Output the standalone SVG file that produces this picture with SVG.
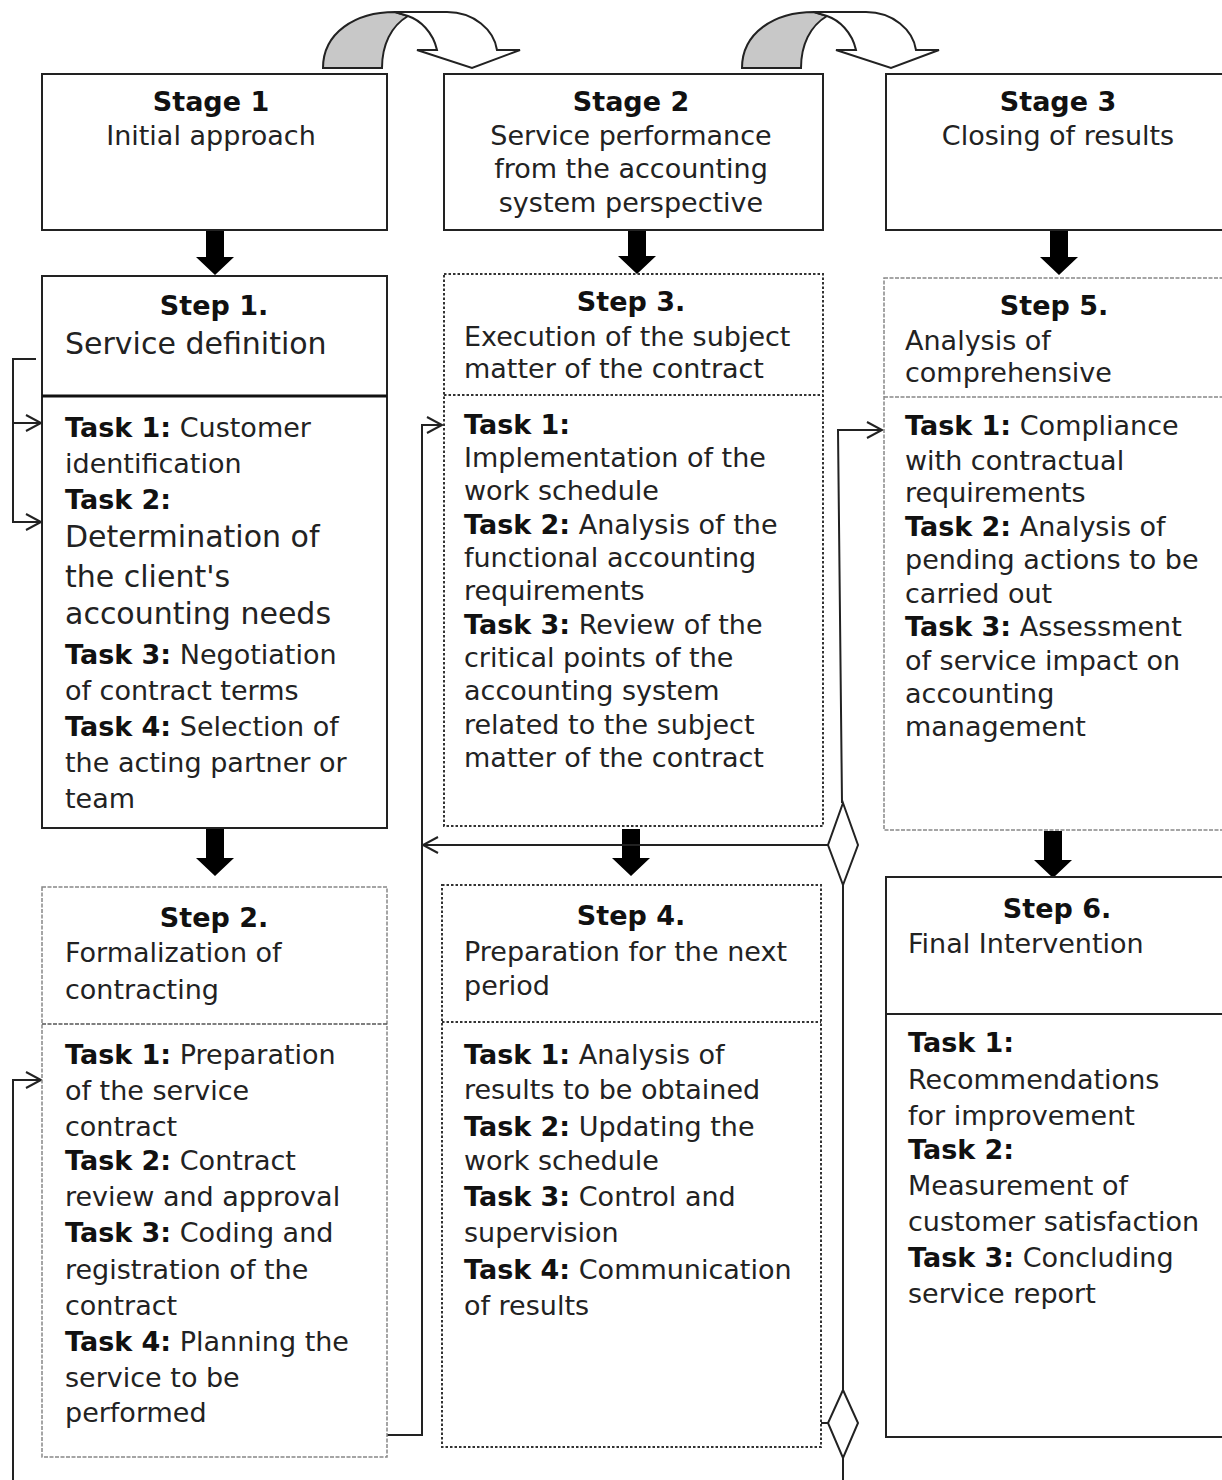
<svg xmlns="http://www.w3.org/2000/svg" width="1222" height="1480" viewBox="0 0 1222 1480">
<style>
text{font-family:"DejaVu Sans","Verdana","Liberation Sans",sans-serif;font-size:27px;fill:#222}
.b{font-weight:bold;fill:#111}
.c{text-anchor:middle}
.big{font-size:30px}
.solid{fill:#fff;stroke:#222;stroke-width:2}
.dot{fill:#fff;stroke:#333;stroke-width:2;stroke-dasharray:2.5 2}
.dash{fill:#fff;stroke:#888;stroke-width:1.5;stroke-dasharray:4 1.5}
.ln{fill:none;stroke:#222;stroke-width:2}
.dia{fill:#fff;stroke:#222;stroke-width:2}
.blk{fill:#000}
</style>
<defs>
<marker id="open" markerWidth="20" markerHeight="20" refX="16" refY="9" orient="auto" markerUnits="userSpaceOnUse">
<path d="M1,1 L16,9 L1,17" fill="none" stroke="#222" stroke-width="2"/>
</marker>
<path id="darrow" d="M-9,0 H9 V29 H19 L0,47 L-19,29 H-9 Z"/>
<g id="curve">
<path d="M323,68 C323,33 355,12 395,12 L408,16 C391,26 382,45 382,68 Z" fill="#c8c8c8" stroke="#222" stroke-width="2"/>
<path d="M395,12 L447,12 C474,12 494,30 497,50 L520,50 L472,68 L417,50 L437,50 C433,32 420,20 408,16 Z" fill="#fff" stroke="#222" stroke-width="2"/>
</g>
</defs>

<g id="connectors">
<use href="#curve"/>
<use href="#curve" transform="translate(419,0)"/>
<use href="#darrow" class="blk" transform="translate(215,228)"/>
<use href="#darrow" class="blk" transform="translate(637,227)"/>
<use href="#darrow" class="blk" transform="translate(1059,228)"/>
<use href="#darrow" class="blk" transform="translate(215,829)"/>
<use href="#darrow" class="blk" transform="translate(631,829)"/>
<use href="#darrow" class="blk" transform="translate(1053,831)"/>
<path class="ln" d="M36,359 H13 V522 H41" marker-end="url(#open)"/>
<path class="ln" d="M13,423 H41" marker-end="url(#open)"/>
<path class="ln" d="M13,1480 V1080 H41" marker-end="url(#open)"/>
<path class="ln" d="M387,1435 H422 V425 H442" marker-end="url(#open)"/>
<path class="ln" d="M828,845 H423" marker-end="url(#open)"/>
<path class="ln" d="M842,803 L838,430 H882" marker-end="url(#open)"/>
<path class="ln" d="M843,885 V1390"/>
<path class="ln" d="M821,1423 H828"/>
<path class="ln" d="M843,1458 V1480"/>
<path class="dia" d="M843,803 L858,845 L843,885 L828,845 Z"/>
<path class="dia" d="M843,1390 L858,1423 L843,1458 L828,1423 Z"/>
</g>

<g id="stage1">
<rect class="solid" x="42" y="74" width="345" height="156"/>
<text class="b c" x="211" y="111">Stage 1</text>
<text class="c" x="211" y="145">Initial approach</text>
</g>
<g id="stage2">
<rect class="solid" x="444" y="74" width="379" height="156"/>
<text class="b c" x="631" y="111">Stage 2</text>
<text class="c" x="631" y="145">Service performance</text>
<text class="c" x="631" y="178">from the accounting</text>
<text class="c" x="631" y="212">system perspective</text>
</g>
<g id="stage3">
<rect class="solid" x="886" y="74" width="345" height="156"/>
<text class="b c" x="1058" y="111">Stage 3</text>
<text class="c" x="1058" y="145">Closing of results</text>
</g>

<g id="step1">
<rect class="solid" x="42" y="276" width="345" height="552"/>
<line x1="42" y1="396" x2="387" y2="396" stroke="#111" stroke-width="3"/>
<text class="b c" x="214" y="315">Step 1.</text>
<text class="big" x="65" y="354">Service definition</text>
<text x="65" y="437"><tspan class="b">Task 1:</tspan> Customer</text>
<text x="65" y="473">identification</text>
<text class="b" x="65" y="509">Task 2:</text>
<text class="big" x="65" y="547">Determination of</text>
<text class="big" x="65" y="587">the client's</text>
<text class="big" x="65" y="624">accounting needs</text>
<text x="65" y="664"><tspan class="b">Task 3:</tspan> Negotiation</text>
<text x="65" y="700">of contract terms</text>
<text x="65" y="736"><tspan class="b">Task 4:</tspan> Selection of</text>
<text x="65" y="772">the acting partner or</text>
<text x="65" y="808">team</text>
</g>

<g id="step3">
<rect class="dot" x="444" y="274" width="379" height="552"/>
<line x1="444" y1="395" x2="823" y2="395" stroke="#333" stroke-width="2" stroke-dasharray="2.5 2"/>
<text class="b c" x="631" y="311">Step 3.</text>
<text x="464" y="346">Execution of the subject</text>
<text x="464" y="378">matter of the contract</text>
<text class="b" x="464" y="434">Task 1:</text>
<text x="464" y="467">Implementation of the</text>
<text x="464" y="500">work schedule</text>
<text x="464" y="534"><tspan class="b">Task 2:</tspan> Analysis of the</text>
<text x="464" y="567">functional accounting</text>
<text x="464" y="600">requirements</text>
<text x="464" y="634"><tspan class="b">Task 3:</tspan> Review of the</text>
<text x="464" y="667">critical points of the</text>
<text x="464" y="700">accounting system</text>
<text x="464" y="734">related to the subject</text>
<text x="464" y="767">matter of the contract</text>
</g>

<g id="step5">
<rect class="dash" x="884" y="278" width="345" height="552"/>
<line x1="884" y1="397" x2="1229" y2="397" stroke="#888" stroke-width="1.5" stroke-dasharray="4 1.5"/>
<text class="b c" x="1054" y="315">Step 5.</text>
<text x="905" y="350">Analysis of</text>
<text x="905" y="382">comprehensive</text>
<text x="905" y="435"><tspan class="b">Task 1:</tspan> Compliance</text>
<text x="905" y="470">with contractual</text>
<text x="905" y="502">requirements</text>
<text x="905" y="536"><tspan class="b">Task 2:</tspan> Analysis of</text>
<text x="905" y="569">pending actions to be</text>
<text x="905" y="603">carried out</text>
<text x="905" y="636"><tspan class="b">Task 3:</tspan> Assessment</text>
<text x="905" y="670">of service impact on</text>
<text x="905" y="703">accounting</text>
<text x="905" y="736">management</text>
</g>

<g id="step2">
<rect class="dash" x="42" y="887" width="345" height="570"/>
<line x1="42" y1="1024" x2="387" y2="1024" stroke="#555" stroke-width="1.5" stroke-dasharray="4 1.5"/>
<text class="b c" x="214" y="927">Step 2.</text>
<text x="65" y="962">Formalization of</text>
<text x="65" y="999">contracting</text>
<text x="65" y="1064"><tspan class="b">Task 1:</tspan> Preparation</text>
<text x="65" y="1100">of the service</text>
<text x="65" y="1136">contract</text>
<text x="65" y="1170"><tspan class="b">Task 2:</tspan> Contract</text>
<text x="65" y="1206">review and approval</text>
<text x="65" y="1242"><tspan class="b">Task 3:</tspan> Coding and</text>
<text x="65" y="1279">registration of the</text>
<text x="65" y="1315">contract</text>
<text x="65" y="1351"><tspan class="b">Task 4:</tspan> Planning the</text>
<text x="65" y="1387">service to be</text>
<text x="65" y="1422">performed</text>
</g>

<g id="step4">
<rect class="dot" x="442" y="885" width="379" height="562"/>
<line x1="442" y1="1022" x2="821" y2="1022" stroke="#333" stroke-width="2" stroke-dasharray="2.5 2"/>
<text class="b c" x="631" y="925">Step 4.</text>
<text x="464" y="961">Preparation for the next</text>
<text x="464" y="995">period</text>
<text x="464" y="1064"><tspan class="b">Task 1:</tspan> Analysis of</text>
<text x="464" y="1099">results to be obtained</text>
<text x="464" y="1136"><tspan class="b">Task 2:</tspan> Updating the</text>
<text x="464" y="1170">work schedule</text>
<text x="464" y="1206"><tspan class="b">Task 3:</tspan> Control and</text>
<text x="464" y="1242">supervision</text>
<text x="464" y="1279"><tspan class="b">Task 4:</tspan> Communication</text>
<text x="464" y="1315">of results</text>
</g>

<g id="step6">
<rect class="solid" x="886" y="877" width="345" height="560"/>
<line x1="886" y1="1014" x2="1231" y2="1014" stroke="#222" stroke-width="2"/>
<text class="b c" x="1057" y="918">Step 6.</text>
<text x="908" y="953">Final Intervention</text>
<text class="b" x="908" y="1052">Task 1:</text>
<text x="908" y="1089">Recommendations</text>
<text x="908" y="1125">for improvement</text>
<text class="b" x="908" y="1159">Task 2:</text>
<text x="908" y="1195">Measurement of</text>
<text x="908" y="1231">customer satisfaction</text>
<text x="908" y="1267"><tspan class="b">Task 3:</tspan> Concluding</text>
<text x="908" y="1303">service report</text>
</g>
</svg>
